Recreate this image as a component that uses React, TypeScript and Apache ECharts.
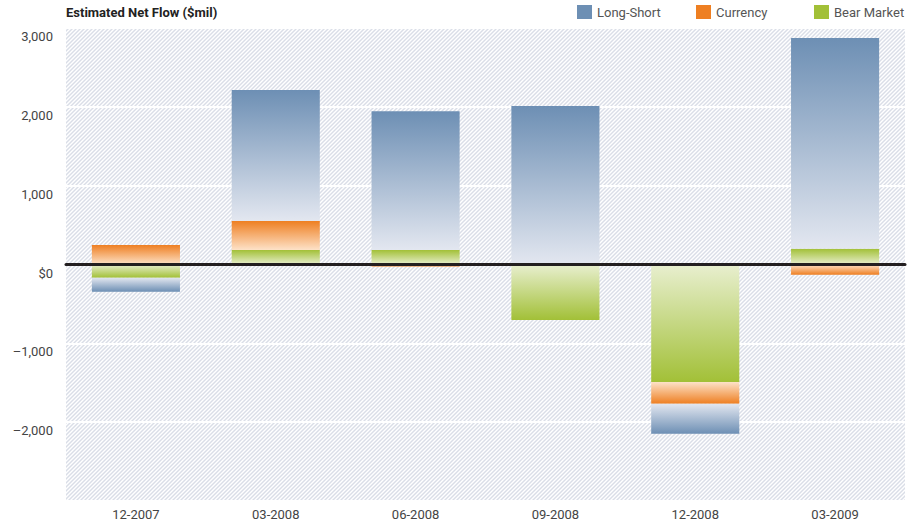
import React, { useEffect, useRef } from "react";
import * as echarts from "echarts";

const categories = ["12-2007", "03-2008", "06-2008", "09-2008", "12-2008", "03-2009"];
const longShort = [-178, 1662, 1759, 2011, -381, 2674];
const currency = [247, 368, -25, 0, -275, -129];
const bearMarket = [-167, 184, 184, -704, -1491, 200];

const FONT = "Roboto, 'Liberation Sans', sans-serif";

const palette: Record<string, [string, string]> = {
  "Long-Short": ["#6d8fb4", "#e3e7f0"],
  Currency: ["#ee7f22", "#fde2c8"],
  "Bear Market": ["#a2c037", "#e8efcf"],
};

function grad(name: string, v: number) {
  const [dark, light] = palette[name];
  const stops =
    v >= 0
      ? [
          { offset: 0, color: dark },
          { offset: 1, color: light },
        ]
      : [
          { offset: 0, color: light },
          { offset: 1, color: dark },
        ];
  return new echarts.graphic.LinearGradient(0, 0, 0, 1, stops);
}

function makePattern() {
  const n = 4;
  const c = document.createElement("canvas");
  c.width = n;
  c.height = n;
  const ctx = c.getContext("2d")!;
  const cols = ["#dadee7", "#eceef3", "#ffffff", "#eceef3"];
  for (let x = 0; x < n; x++) {
    for (let y = 0; y < n; y++) {
      ctx.fillStyle = cols[(x + y) % n];
      ctx.fillRect(x, y, 1, 1);
    }
  }
  return c;
}

function fmt(v: number) {
  if (v === 0) return "$0";
  const s = Math.abs(v).toLocaleString("en-US");
  return v < 0 ? "\u2013" + s : s;
}

export default function App() {
  const ref = useRef<HTMLDivElement>(null);
  useEffect(() => {
    if (!ref.current) return;
    const chart = echarts.init(ref.current, null, { renderer: "svg" });
    const pattern = { image: makePattern(), repeat: "repeat" };
    const mk = (name: string, data: number[]) => ({
      name,
      type: "bar",
      stack: "total",
      barWidth: "63%",
      itemStyle: { color: palette[name][0] },
      data: data.map((v) => ({ value: v, itemStyle: { color: grad(name, v) } })),
    });
    const legendCommon = {
      top: 5,
      itemWidth: 15,
      itemHeight: 14,
      itemGap: 0,
      selectedMode: false,
      textStyle: { fontFamily: FONT, fontSize: 13, color: "#555555", padding: [0, 0, 0, 0] },
      padding: 0,
    };
    chart.setOption({
      animation: false,
      backgroundColor: "#ffffff",
      title: {
        text: "Estimated Net Flow ($mil)",
        left: 66,
        top: 6,
        padding: 0,
        textStyle: { fontFamily: FONT, fontSize: 13, fontWeight: "bold", color: "#222222" },
      },
      legend: [
        { ...legendCommon, left: 577, data: [{ name: "Long-Short", icon: "rect" }] },
        { ...legendCommon, left: 696, data: [{ name: "Currency", icon: "rect" }] },
        { ...legendCommon, left: 814, data: [{ name: "Bear Market", icon: "rect" }] },
      ],
      grid: {
        left: 66,
        right: 10,
        top: 28,
        bottom: 26,
        show: true,
        backgroundColor: pattern,
        borderWidth: 0,
        containLabel: false,
      },
      xAxis: {
        type: "category",
        data: categories,
        z: 10,
        axisLine: { onZero: true, lineStyle: { color: "#231f20", width: 3 } },
        axisTick: { show: false },
        axisLabel: { margin: 7, fontFamily: FONT, fontSize: 13, color: "#444444" },
      },
      yAxis: {
        type: "value",
        min: -3000,
        max: 3000,
        interval: 1000,
        axisLine: { show: false },
        axisTick: { show: false },
        splitLine: { show: true, lineStyle: { color: "#ffffff", width: 2 } },
        axisLabel: {
          showMinLabel: false,
          margin: 13,
          verticalAlign: "top",
          padding: [2, 0, 0, 0],
          fontFamily: FONT,
          fontSize: 13,
          color: "#444444",
          formatter: (v: number) => fmt(v),
        },
      },
      series: [mk("Bear Market", bearMarket), mk("Currency", currency), mk("Long-Short", longShort)],
    });
    return () => chart.dispose();
  }, []);
  return <div ref={ref} style={{ width: 915, height: 527, position: "absolute", left: 0, top: 0 }} />;
}
